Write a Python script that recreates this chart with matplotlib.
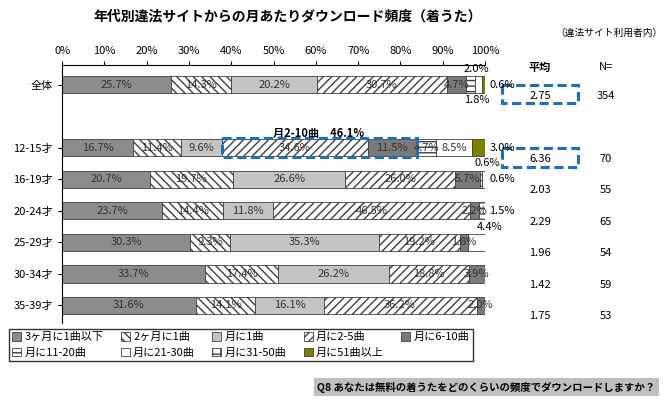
import matplotlib.pyplot as plt
from matplotlib.patches import Rectangle
import numpy as np

plt.rcParams['font.family'] = ['Noto Sans CJK JP', 'DejaVu Sans']
plt.rcParams['hatch.color'] = '#808080'

rows = ["全体", "12-15才", "16-19才", "20-24才", "25-29才", "30-34才", "35-39才"]
ypos = [0, 2, 3, 4, 5, 6, 7]
cats = ["3ヶ月に1曲以下", "2ヶ月に1曲", "月に1曲", "月に2-5曲", "月に6-10曲",
        "月に11-20曲", "月に21-30曲", "月に31-50曲", "月に51曲以上"]
vals = np.array([
    [25.7, 14.3, 20.2, 30.7, 4.7, 2.0, 1.8, 0.0, 0.6],
    [16.7, 11.4, 9.6, 34.6, 11.5, 4.7, 8.5, 0.0, 3.0],
    [20.7, 19.7, 26.6, 26.0, 5.7, 0.7, 0.6, 0.0, 0.0],
    [23.7, 14.4, 11.8, 46.5, 2.2, 1.5, 0.0, 0.0, 0.0],
    [30.3, 9.3, 35.3, 19.2, 1.8, 0.0, 4.4, 0.0, 0.0],
    [33.7, 17.4, 26.2, 18.8, 3.9, 0.0, 0.0, 0.0, 0.0],
    [31.6, 14.1, 16.1, 36.2, 2.0, 0.0, 0.0, 0.0, 0.0],
])
means = ["2.75", "6.36", "2.03", "2.29", "1.96", "1.42", "1.75"]
ns = ["354", "70", "55", "65", "54", "59", "53"]

colors = ['#8c8c8c', 'white', '#c4c4c4', 'white', '#7a7a7a', 'white', 'white', 'white', '#808000']
hatches = ['', '\\\\\\\\', '', '////', '', '---', '', '++', '']

fig = plt.figure(figsize=(6.69, 4.01), dpi=100)
ax = fig.add_axes([0.093, 0.195, 0.632, 0.643])
for r, y in enumerate(ypos):
    left = 0
    for c in range(len(cats)):
        v = vals[r, c]
        if v > 0:
            ax.barh(y, v, left=left, height=0.55, color=colors[c], hatch=hatches[c],
                    edgecolor='#404040', linewidth=0.6)
            if (c < 5 and v >= 1.5) or (r == 1 and c in (5, 6)):
                ax.text(left + v / 2, y, f"{v}%", ha='center', va='center', fontsize=8,
                        color='#333333')
        left += v
    ax.text(1.13, y + 0.35, means[r], transform=ax.get_yaxis_transform(),
            ha='center', va='center', fontsize=8)
    ax.text(1.285, y + 0.35, ns[r], transform=ax.get_yaxis_transform(),
            ha='center', va='center', fontsize=8)

# small labels outside bars
ax.text(98, -0.48, "2.0%", ha='center', va='center', fontsize=8)
ax.text(101, 0, "0.6%", ha='left', va='center', fontsize=8)
ax.text(98, 0.5, "1.8%", ha='center', va='center', fontsize=8)
ax.text(101, 2, "3.0%", ha='left', va='center', fontsize=8)
ax.text(100.5, 2.5, "0.6%", ha='center', va='center', fontsize=8)
ax.text(101, 3, "0.6%", ha='left', va='center', fontsize=8)
ax.text(101, 4, "1.5%", ha='left', va='center', fontsize=8)
ax.text(101, 4.5, "4.4%", ha='center', va='center', fontsize=8)

# highlight box 月2-10曲
ax.add_patch(Rectangle((37.7, 2 - 0.3), 46.1, 0.6, fill=False, edgecolor='#1f6fb5',
                       linewidth=2.2, linestyle=(0, (3, 1.5)), zorder=5))
ax.text(60.7, 1.55, "月2-10曲　46.1%", ha='center', va='center', fontsize=8, fontweight='bold')
for y in (0.3, 2.3):
    ax.add_patch(Rectangle((1.04, y - 0.3), 0.18, 0.6, transform=ax.get_yaxis_transform(),
                           fill=False, edgecolor='#1f6fb5', linewidth=2.2,
                           linestyle=(0, (3, 1.5)), clip_on=False))

ax.text(1.13, -0.55, "平均", transform=ax.get_yaxis_transform(), ha='center', va='center',
        fontsize=8, fontweight='bold')
ax.text(1.285, -0.55, "N=", transform=ax.get_yaxis_transform(), ha='center', va='center',
        fontsize=8)
ax.text(1.42, -1.65, "（違法サイト利用者内）", transform=ax.get_yaxis_transform(), ha='right',
        va='center', fontsize=7)

ax.set_xlim(0, 100)
ax.set_ylim(7.55, -0.62)
ax.set_yticks(ypos)
ax.set_yticklabels(rows, fontsize=8)
ax.set_xticks(range(0, 101, 10))
ax.set_xticklabels([f"{t}%" for t in range(0, 101, 10)], fontsize=8)
ax.xaxis.tick_top()
ax.tick_params(length=3)
for s in ['right', 'bottom']:
    ax.spines[s].set_visible(False)

fig.text(0.43, 0.96, "年代別違法サイトからの月あたりダウンロード頻度（着うた）", ha='center',
         va='center', fontsize=10, fontweight='bold')

handles = [Rectangle((0, 0), 1, 1, facecolor=colors[i], hatch=hatches[i], edgecolor='#404040',
                     linewidth=0.6) for i in range(len(cats))]
order = [0, 5, 1, 6, 2, 7, 3, 8, 4]
leg = fig.legend([handles[i] for i in order], [cats[i] for i in order], loc='lower left',
                 bbox_to_anchor=(0.005, 0.085, 0.71, 0.08), ncol=5, mode='expand',
                 fontsize=8, frameon=True, fancybox=False,
                 handlelength=0.8, handleheight=0.8, handletextpad=0.3, borderpad=0.3,
                 columnspacing=0.5)
leg.get_frame().set_edgecolor('black')

fig.text(0.98, 0.035, "Q8 あなたは無料の着うたをどのくらいの頻度でダウンロードしますか？",
         ha='right', va='center', fontsize=7.5, fontweight='bold',
         bbox=dict(facecolor='#bfbfbf', edgecolor='none', boxstyle='square,pad=0.35'))

fig.savefig("out.png", dpi=100)
